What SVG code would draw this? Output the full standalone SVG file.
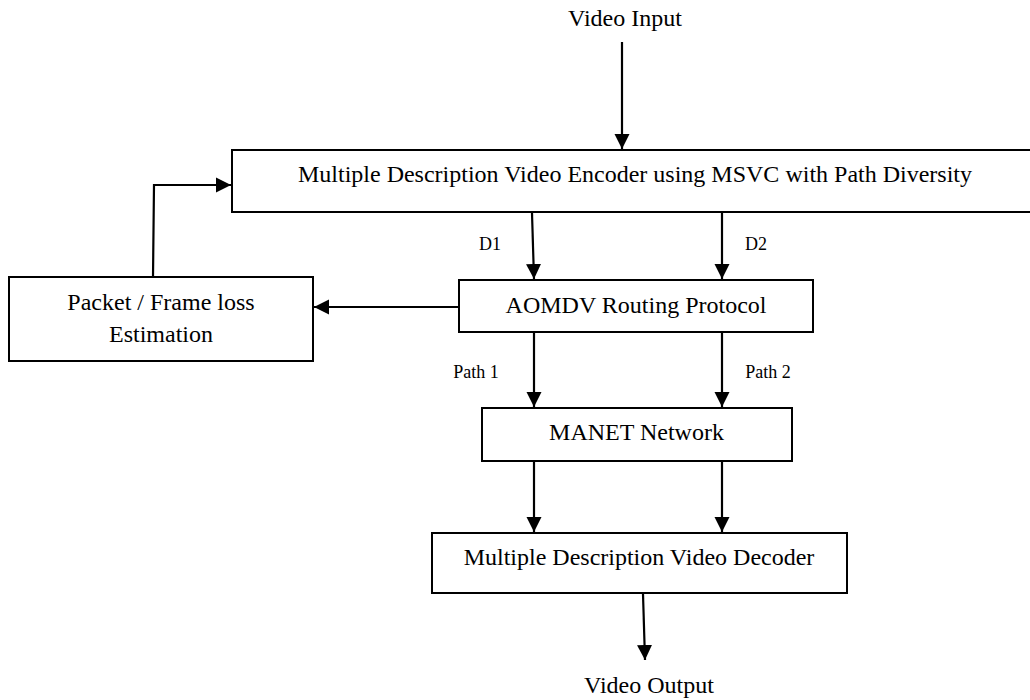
<svg xmlns="http://www.w3.org/2000/svg" width="1030" height="700" viewBox="0 0 1030 700">
  <style>
    .box { fill: #ffffff; stroke: #000000; stroke-width: 2; }
    .lbl { font-family: "Liberation Serif", "Times New Roman", serif; font-size: 24px; fill: #000000; text-anchor: middle; }
    .small { font-family: "Liberation Serif", "Times New Roman", serif; font-size: 18px; fill: #000000; text-anchor: middle; }
    .wire { fill: none; stroke: #000000; stroke-width: 2.2; marker-end: url(#arrow); }
  </style>
  <defs>
    <marker id="arrow" markerUnits="userSpaceOnUse" markerWidth="16" markerHeight="16" viewBox="0 0 16 16" refX="15" refY="8" orient="auto">
      <path d="M0,0.5 L15,8 L0,15.5 Z" fill="#000000"/>
    </marker>
  </defs>
  <rect width="1030" height="700" fill="#ffffff"/>

  <!-- free-standing input / output labels -->
  <text class="lbl" x="625" y="26">Video Input</text>
  <text class="lbl" x="649" y="693">Video Output</text>

  <!-- nodes -->
  <g id="encoder">
    <rect class="box" x="232" y="150" width="810" height="62"/>
    <text class="lbl" x="635" y="182">Multiple Description Video Encoder using MSVC with Path Diversity</text>
  </g>
  <g id="loss-estimation">
    <rect class="box" x="9" y="277" width="304" height="84"/>
    <text class="lbl" x="161" y="310">Packet / Frame loss</text>
    <text class="lbl" x="161" y="342">Estimation</text>
  </g>
  <g id="aomdv">
    <rect class="box" x="459" y="280" width="354" height="52"/>
    <text class="lbl" x="636" y="313">AOMDV Routing Protocol</text>
  </g>
  <g id="manet">
    <rect class="box" x="482" y="408" width="310" height="53"/>
    <text class="lbl" x="636.5" y="440">MANET Network</text>
  </g>
  <g id="decoder">
    <rect class="box" x="432" y="533" width="415" height="60"/>
    <text class="lbl" x="639" y="565">Multiple Description Video Decoder</text>
  </g>

  <!-- connectors -->
  <g id="connectors">
    <path class="wire" d="M622,42 L622,149"/>
    <path class="wire" d="M532,213 L534,279"/>
    <path class="wire" d="M722,213 L722,279"/>
    <path class="wire" d="M459,307 L314,307"/>
    <path class="wire" d="M153,277 L154,185 L231,185"/>
    <path class="wire" d="M534,333 L534,407"/>
    <path class="wire" d="M722,333 L722,407"/>
    <path class="wire" d="M534,462 L534,532"/>
    <path class="wire" d="M722,462 L722,532"/>
    <path class="wire" d="M643,594 L645,660"/>
  </g>

  <!-- connector labels -->
  <text class="small" x="490" y="250">D1</text>
  <text class="small" x="756" y="250">D2</text>
  <text class="small" x="476" y="378">Path 1</text>
  <text class="small" x="768" y="378">Path 2</text>
</svg>
